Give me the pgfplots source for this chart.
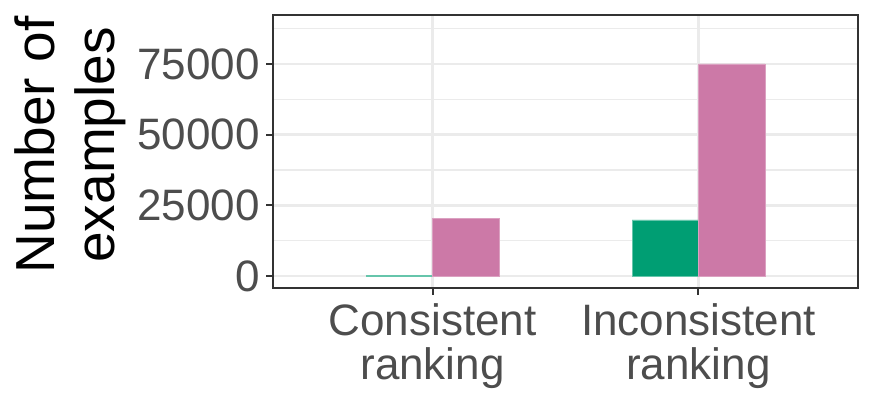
\documentclass[border=0pt]{standalone}
\usepackage{fontspec}
\setmainfont{Liberation Sans}
\usepackage{pgfplots}
\pgfplotsset{compat=1.18}
\definecolor{bargreen}{HTML}{009E73}
\definecolor{barpink}{HTML}{CC79A7}
\definecolor{txtgray}{HTML}{4D4D4D}
\definecolor{gridgray}{HTML}{EBEBEB}
\definecolor{framegray}{HTML}{333333}

\begin{document}
\begin{tikzpicture}
\begin{axis}[
  scale only axis,
  width=292.5pt, height=136.5pt,
  xmin=0.4, xmax=2.6, ymin=-4240, ymax=92300,
  axis line style={framegray, line width=0.6pt},
  xtick={1,2},
  xticklabels={Consistent\\ranking, Inconsistent\\ranking},
  ytick={0,25000,50000,75000},
  minor ytick={12500,37500,62500,87500},
  scaled y ticks=false,
  grid=both,
  major grid style={gridgray, line width=1.3pt},
  minor grid style={gridgray, line width=0.7pt},
  tick align=outside, tick pos=left,
  major tick length=3.5pt,
  minor tick length=0pt,
  every tick/.style={framegray, line width=1pt},
  /pgf/number format/1000 sep={},
  /pgf/number format/assume math mode=true,
  tick label style={font=\fontsize{22}{22}\selectfont, text=txtgray},
  xticklabel style={align=center, inner sep=2pt, yshift=-2pt},
  yticklabel style={inner sep=3pt},
  ylabel={Number of\\examples},
  ylabel style={font=\fontsize{27.5}{30}\selectfont, align=center, at={(rel axis cs:-0.347,0.524)}, anchor=center},
  clip=false,
]
\addplot[ybar, bar width=0.25, bar shift=-0.125, fill=bargreen, draw=bargreen!60, line width=0.4pt]
  coordinates {(1,250) (2,19800)};
\addplot[ybar, bar width=0.25, bar shift=0.125, fill=barpink, draw=barpink!70, line width=0.4pt]
  coordinates {(1,20500) (2,75000)};
\coordinate (bl) at (rel axis cs:-0.4667,-0.3993);
\coordinate (tr) at (rel axis cs:1.0239,1.0549);
\end{axis}
\path[use as bounding box] (bl) rectangle (tr);
\end{tikzpicture}
\end{document}
